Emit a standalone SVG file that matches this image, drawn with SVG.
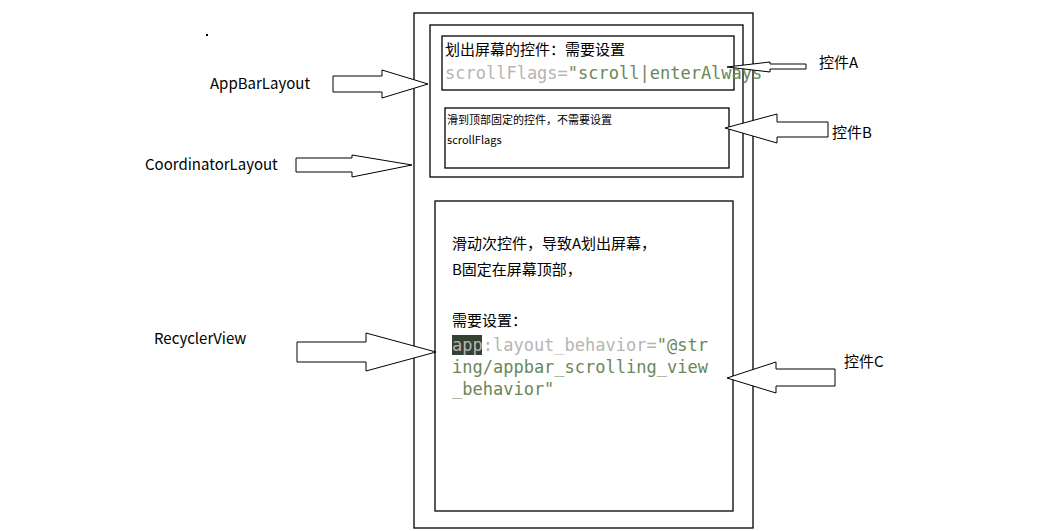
<svg xmlns="http://www.w3.org/2000/svg" width="1053" height="531" viewBox="0 0 1053 531">
<style>
.b{fill:none;stroke:#000;stroke-width:1.3}
.ar{fill:#fff;stroke:#000;stroke-width:1}
.t{font-family:"Noto Sans CJK SC","Noto Sans",sans-serif;fill:#000}
.m{font-family:"DejaVu Sans Mono",monospace}
</style>
<rect width="1053" height="531" fill="#fff"/>
<rect x="206" y="34" width="2" height="2" fill="#000"/>
<g id="coordinator"><rect class="b" x="414" y="13" width="339" height="515"/></g>
<g id="appbar"><rect class="b" x="430" y="25" width="313" height="152"/></g>
<g id="a"><rect class="b" x="442" y="36" width="292" height="54"/>
<text class="t" x="445" y="55" font-size="15">划出屏幕的控件：需要设置</text>
<text class="m" x="445" y="79" font-size="17"><tspan fill="#b5b5b5">scrollFlags=</tspan><tspan fill="#6a8759">"scroll|enterAlways"</tspan></text></g>
<g id="b"><rect class="b" x="445" y="108" width="284" height="60"/>
<text class="t" x="447" y="124" font-size="11">滑到顶部固定的控件，不需要设置</text>
<text class="t" x="447" y="144" font-size="11">scrollFlags</text></g>
<g id="c"><rect class="b" x="435" y="201" width="298" height="310"/>
<text class="t" x="452" y="249" font-size="15">滑动次控件，导致A划出屏幕，</text>
<text class="t" x="452" y="275" font-size="15">B固定在屏幕顶部，</text>
<text class="t" x="452" y="326" font-size="15">需要设置：</text>
<rect x="452" y="335" width="30" height="20" fill="#344134"/>
<text class="m" x="452" y="351" font-size="17"><tspan fill="#b5b5b5">app:layout_behavior=</tspan><tspan fill="#6a8759">"@str</tspan></text>
<text class="m" x="452" y="373" font-size="17" fill="#6a8759">ing/appbar_scrolling_view</text>
<text class="m" x="452" y="395" font-size="17" fill="#6a8759">_behavior"</text></g>
<g id="labels">
<text class="t" x="210" y="89" font-size="15">AppBarLayout</text>
<text class="t" x="145" y="170" font-size="15">CoordinatorLayout</text>
<text class="t" x="154" y="344" font-size="15">RecyclerView</text>
<text class="t" x="819" y="68" font-size="15">控件A</text>
<text class="t" x="832" y="138" font-size="15">控件B</text>
<text class="t" x="844" y="367" font-size="15">控件C</text>
</g>
<g id="connectors">
<polygon class="ar" points="333,76 382,76 382,70 428,84 382,98 382,92 333,92"/>
<polygon class="ar" points="296,158 352,158 352,155 412,165 352,177 352,172 296,172"/>
<polygon class="ar" points="297,342 366,342 366,333 436,352 366,371 366,362 297,362"/>
<polygon class="ar" points="806,64 770,64 770,62 727,67 770,72 770,69 806,69"/>
<polygon class="ar" points="828,122 777,122 777,114 725,128 777,143 777,137 828,137"/>
<polygon class="ar" points="835,369 776,369 776,362 727,378 776,393 776,386 835,386"/>
</g>
</svg>
